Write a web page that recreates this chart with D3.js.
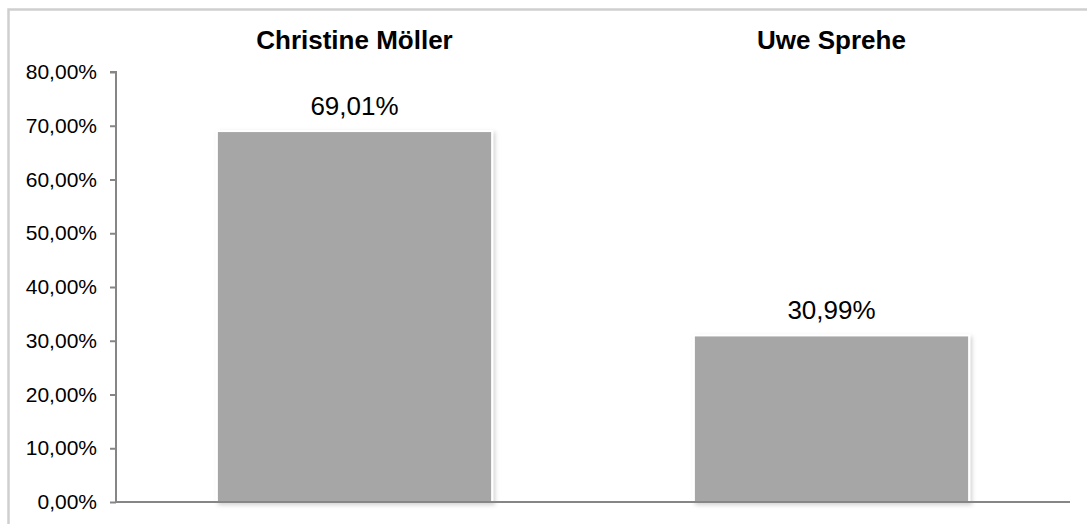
<!DOCTYPE html>
<html>
<head>
<meta charset="utf-8">
<script src="https://cdn.jsdelivr.net/npm/d3@7"></script>
<style>
  html, body { margin: 0; padding: 0; background: #fff; }
  svg { display: block; font-family: "Liberation Sans", Arial, sans-serif; }
</style>
</head>
<body>
<svg id="chart" width="1087" height="524"></svg>
<script>
const categories = ["Christine Möller", "Uwe Sprehe"];
const values = [69.01, 30.99];
const valueLabels = ["69,01%", "30,99%"];
const yTicks = [0, 10, 20, 30, 40, 50, 60, 70, 80];

(function () {
const svg = d3.select("#chart");
const mLeft = 116, mRight = 1070, mTop = 72, mBottom = 502;

// outer frame
svg.append("rect")
  .attr("x", 8.5).attr("y", 9.5)
  .attr("width", 1200).attr("height", 600)
  .attr("fill", "#fff")
  .attr("stroke", "#cfcfcf")
  .attr("stroke-width", 2.5);

const defs = svg.append("defs");
const f = defs.append("filter").attr("id", "shadow")
  .attr("x", "-5%").attr("y", "-5%").attr("width", "115%").attr("height", "115%");
f.append("feDropShadow").attr("dx", 2).attr("dy", 2).attr("stdDeviation", 2)
  .attr("flood-color", "#000").attr("flood-opacity", 0.18);

const x = d3.scaleBand().domain(categories).range([mLeft, mRight]).paddingInner(0.423).paddingOuter(0.2115);
const y = d3.scaleLinear().domain([0, 80]).range([mBottom, mTop]);

// bars
svg.selectAll("rect.bar").data(values).join("rect")
  .attr("class", "bar")
  .attr("x", (d, i) => x(categories[i]))
  .attr("y", d => y(d))
  .attr("width", x.bandwidth())
  .attr("height", d => y(0) - y(d))
  .attr("fill", "#a6a6a6")
  .attr("stroke", "#ffffff")
  .attr("stroke-width", 2)
  .attr("filter", "url(#shadow)");

// y axis
const yAxis = d3.axisLeft(y)
  .tickValues(yTicks)
  .tickSize(6)
  .tickPadding(13)
  .tickFormat(d => d3.format(".2f")(d).replace(".", ",") + "%");
const ga = svg.append("g").attr("transform", `translate(${mLeft},0)`).call(yAxis);
ga.select(".domain").attr("stroke", "#868686").attr("stroke-width", 2).attr("d", `M-6,${mTop}H0V${mBottom}`);
ga.selectAll(".tick line").attr("stroke", "#868686").attr("stroke-width", 2);
ga.selectAll(".tick text").attr("fill", "#000").attr("font-size", 21)
  .attr("font-family", "Liberation Sans, Arial, sans-serif");

// x axis line
const gx = svg.append("g").attr("transform", `translate(0,${mBottom})`)
  .call(d3.axisBottom(x).tickSize(0).tickFormat(""));
gx.select(".domain").attr("stroke", "#868686").attr("stroke-width", 2).attr("d", `M${mLeft-1},0H${mRight}`);

// category titles at top
svg.selectAll("text.cat").data(categories).join("text")
  .attr("class", "cat")
  .attr("x", d => x(d) + x.bandwidth() / 2)
  .attr("y", 49)
  .attr("text-anchor", "middle")
  .attr("font-size", 26)
  .attr("font-weight", "bold")
  .attr("fill", "#000")
  .text(d => d);

// value labels
svg.selectAll("text.val").data(values).join("text")
  .attr("class", "val")
  .attr("x", (d, i) => x(categories[i]) + x.bandwidth() / 2)
  .attr("y", d => y(d) - 16)
  .attr("text-anchor", "middle")
  .attr("font-size", 26)
  .attr("fill", "#000")
  .text((d, i) => valueLabels[i]);
})();
</script>
</body>
</html>
